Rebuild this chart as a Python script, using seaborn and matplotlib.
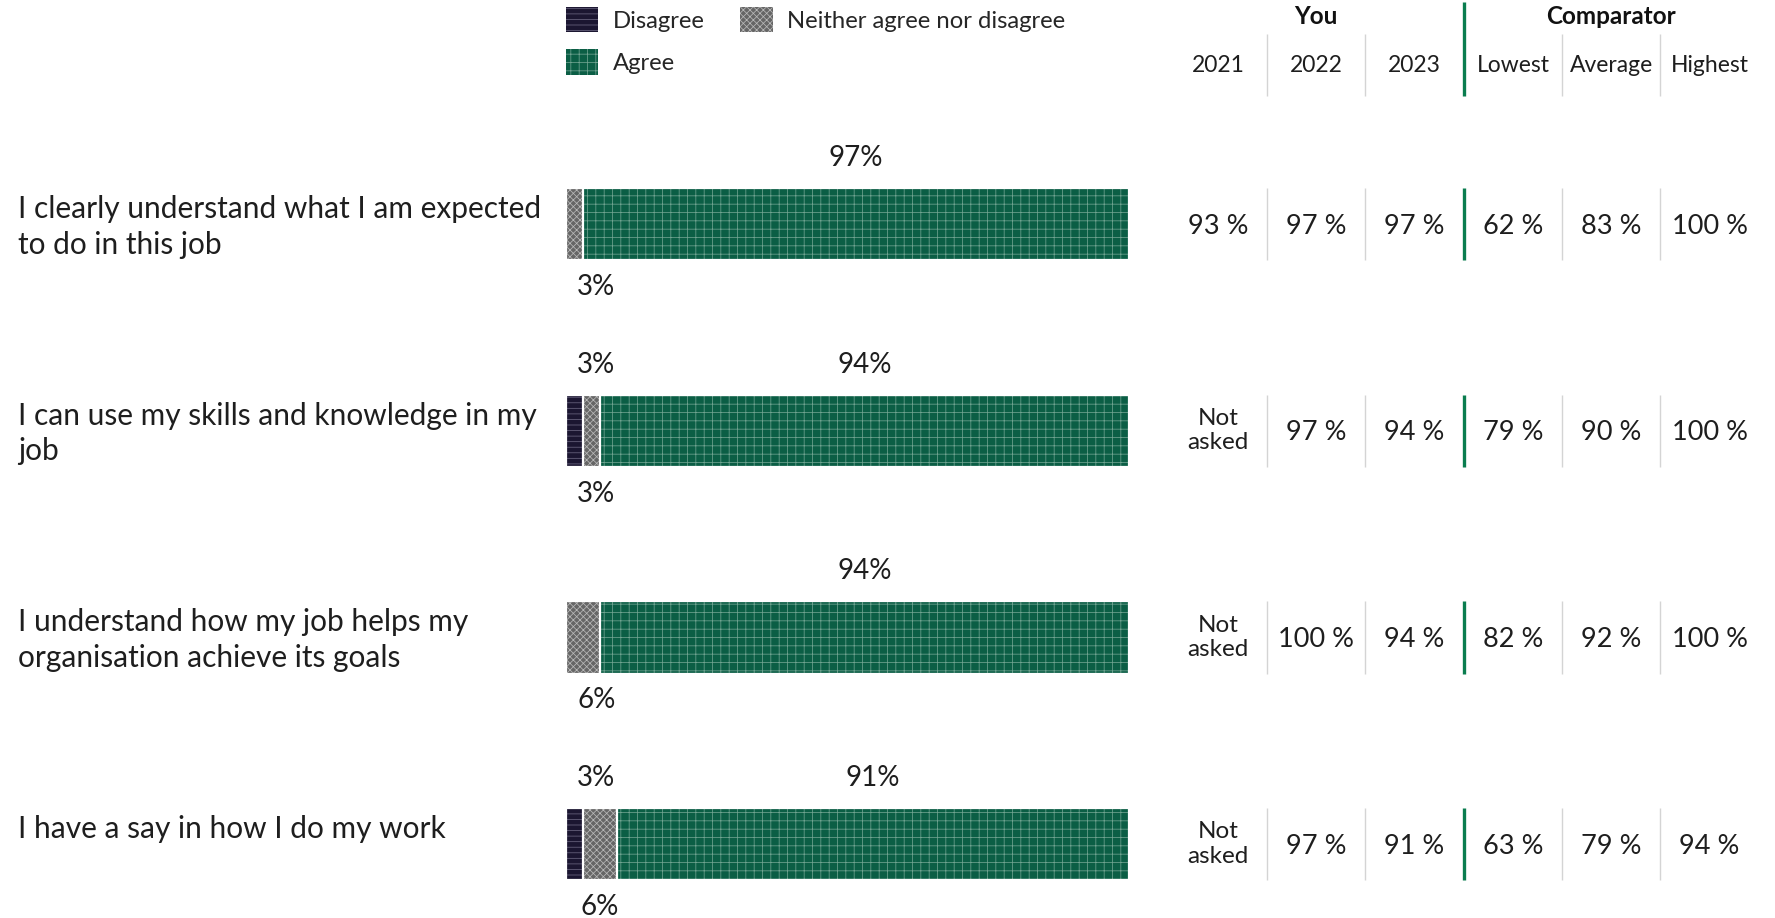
import numpy as np
import pandas as pd
import matplotlib.pyplot as plt
import matplotlib.patches as mpatches
import seaborn as sns

sns.set_theme(style="white")
plt.rcParams['font.family'] = ['Lato', 'DejaVu Sans']
plt.rcParams['hatch.linewidth'] = 0.55

# data
questions = [
    "I clearly understand what I am expected\nto do in this job",
    "I can use my skills and knowledge in my\njob",
    "I understand how my job helps my\norganisation achieve its goals",
    "I have a say in how I do my work",
]
disagree = [0, 3, 0, 3]
neither = [3, 3, 6, 6]
agree = [97, 94, 94, 91]

table_cols = ["2021", "2022", "2023", "Lowest", "Average", "Highest"]
col_2021 = [93, None, None, None]
col_2022 = [97, 97, 100, 97]
col_2023 = [97, 94, 94, 91]
col_lowest = [62, 79, 82, 63]
col_average = [83, 90, 92, 79]
col_highest = [100, 100, 100, 94]

df = pd.DataFrame({"q": questions, "dis": disagree, "neu": neither, "agr": agree})
df["cum_neu"] = df["dis"] + df["neu"]
df["cum_all"] = df["cum_neu"] + df["agr"]

# (face, hatch colour, hatch)
STY_DIS = ("#1b1631", "#6a6580", "---")
STY_NEU = ("#666666", "#b8b8b8", "xxxxx")
STY_AGR = ("#0b5e45", "#6fa390", "++")
C_LINE = "#0a7d4f"
TXT = "#1e1e1e"

W, H = 1775, 918
fig = plt.figure(figsize=(W / 100, H / 100), dpi=100)

ROW_PX = 206.7
TOP_PX = 224
ylim = ((H - TOP_PX) / ROW_PX, -TOP_PX / ROW_PX)


def px(v):
    return v / ROW_PX


# bar panel: stacked by drawing cumulative totals on top of each other
ax = fig.add_axes([566 / W, 0, (1129 - 566) / W, 1])
bar_h = 0.35
for col, sty in [("cum_all", STY_AGR), ("cum_neu", STY_NEU), ("dis", STY_DIS)]:
    n0 = len(ax.patches)
    sns.barplot(data=df, x=col, y="q", orient="h", color=sty[0], saturation=1,
                width=bar_h, hatch=sty[2], edgecolor=sty[1], linewidth=0, ax=ax)
    # white separators around each segment
    for p in ax.patches[n0:]:
        if p.get_width() > 0:
            ax.add_patch(mpatches.Rectangle(p.get_xy(), p.get_width(), p.get_height(),
                                            fill=False, edgecolor="white", linewidth=1.6))
ax.set_xlim(0, 100)
ax.set_ylim(*ylim)
ax.axis("off")

lab_fs = 20
for i, r in df.iterrows():
    ax.text(r["cum_neu"] + r["agr"] / 2, i - px(66), f"{r['agr']}%", ha="center", va="center",
            fontsize=lab_fs, color=TXT)
    if r["dis"] > 0:
        ax.text(max(r["dis"] / 2, 5.4), i - px(66), f"{r['dis']}%", ha="center", va="center",
                fontsize=lab_fs, color=TXT)
    if r["neu"] > 0:
        ax.text(max(r["dis"] + r["neu"] / 2, 5.4), i + px(63), f"{r['neu']}%", ha="center",
                va="center", fontsize=lab_fs, color=TXT)

# question labels on the left
for i, q in enumerate(questions):
    fig.text(18 / W, 1 - (TOP_PX + i * ROW_PX - 29) / H, q, ha="left", va="top",
             fontsize=21.5, color=TXT, linespacing=1.33)

# table panel
tx = fig.add_axes([1170 / W, 0, (W - 1170) / W, 1])
tx.set_xlim(1170, W)
tx.set_ylim(*ylim)
tx.axis("off")
col_w = 98.3
x0 = 1218
centers = [x0 + col_w * j for j in range(len(table_cols))]
values = [col_2021, col_2022, col_2023, col_lowest, col_average, col_highest]

for j, (name, vals) in enumerate(zip(table_cols, values)):
    tx.text(centers[j], px(65 - TOP_PX), name, ha="center", va="center", fontsize=16.5,
            color=TXT)
    for i, v in enumerate(vals):
        if v is None:
            tx.text(centers[j], i, "Not\nasked", ha="center", va="center", fontsize=17.5,
                    color=TXT, linespacing=1.2)
        else:
            tx.text(centers[j], i + px(2), f"{v} %", ha="center", va="center", fontsize=19.5,
                    color=TXT)

tx.text((centers[0] + centers[2]) / 2, px(17 - TOP_PX), "You", ha="center", va="center",
        fontsize=17.5, fontweight="bold", color="#111111")
tx.text((centers[3] + centers[5]) / 2, px(17 - TOP_PX), "Comparator", ha="center",
        va="center", fontsize=17.5, fontweight="bold", color="#111111")

# column separators
for k in range(1, len(table_cols)):
    xs = x0 - col_w / 2 + col_w * k
    green = k == 3
    col = C_LINE if green else "#d4d4d4"
    lw = 2.4 if green else 1.0
    top = px(2 - TOP_PX) if green else px(34 - TOP_PX)
    tx.plot([xs, xs], [top, px(96 - TOP_PX)], color=col, lw=lw, solid_capstyle="butt")
    for i in range(len(questions)):
        tx.plot([xs, xs], [i - bar_h / 2, i + bar_h / 2], color=col, lw=lw,
                solid_capstyle="butt")

# legend
handles = [
    mpatches.Patch(facecolor=STY_DIS[0], hatch=STY_DIS[2], edgecolor=STY_DIS[1], linewidth=0,
                   label="Disagree"),
    mpatches.Patch(facecolor=STY_AGR[0], hatch=STY_AGR[2], edgecolor=STY_AGR[1], linewidth=0,
                   label="Agree"),
    mpatches.Patch(facecolor=STY_NEU[0], hatch=STY_NEU[2], edgecolor=STY_NEU[1], linewidth=0,
                   label="Neither agree nor disagree"),
]
fig.legend(handles=handles, loc="upper left", bbox_to_anchor=(566 / W, 1 - 7 / H),
           bbox_transform=fig.transFigure, ncol=2, frameon=False, fontsize=17.2,
           handlelength=1.35, handleheight=1.25, handletextpad=0.6, columnspacing=1.5,
           labelspacing=0.72, borderpad=0, borderaxespad=0)

fig.savefig("out.png", dpi=100)
